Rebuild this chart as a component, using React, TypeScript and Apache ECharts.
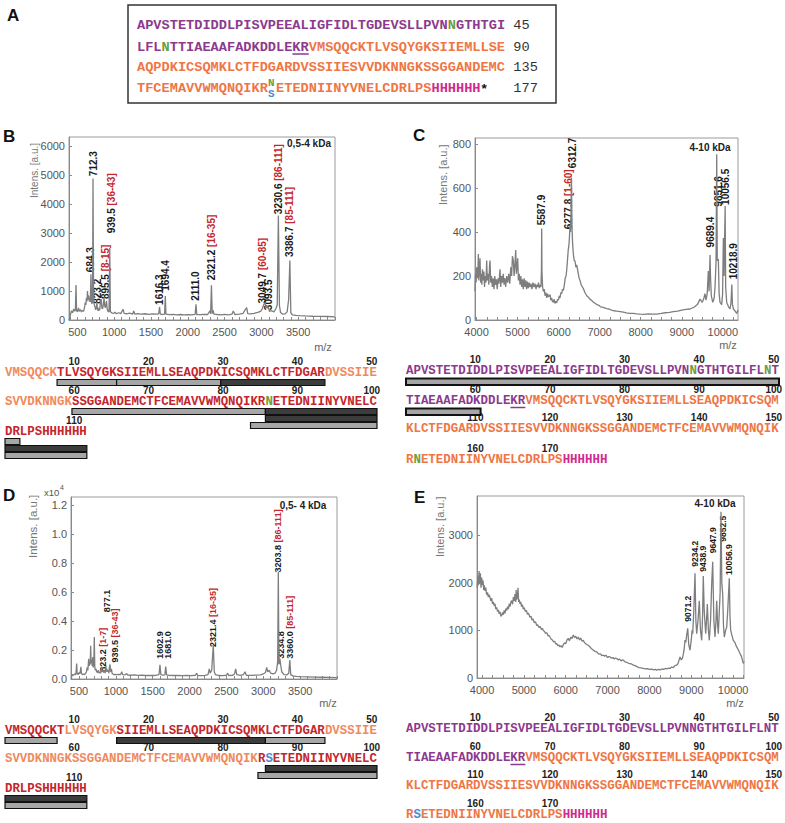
import React, { useEffect, useRef } from "react";
import * as echarts from "echarts";

const MONO = '"Liberation Mono","DejaVu Sans Mono",monospace';
const SANS = '"Liberation Sans",Arial,sans-serif';

const COLORS: Record<string, string> = {
  pur: "#8c3a8e", ora: "#ee7646", grn: "#6e9c3e", blu: "#4a8ad4", mag: "#d02a8f",
  red: "#c3262c", lor: "#f08a5e", blk: "#1a1a1a",
};

type Seg = [string, string];
type Bar = [number, number, number, string];
type Lab = [number, number, string, string];

// ---------- Panel A: full sequence ----------
const seqA: Seg[][] = [
  [["APVSTETDIDDLPISVPEEALIGFIDLTGDEVSLLPVN", "pur"], ["N", "grn"], ["GTHTGI", "pur"]],
  [["LFL", "pur"], ["N", "grn"], ["TTIAEAAFADKDDLEKR", "pur"], ["VMSQQCKTLVSQYGKSIIEMLLSE", "ora"]],
  [["AQPDKICSQMKLCTFDGARDVSSIIESVVDKNNGKSSGGANDEMC", "ora"]],
  [["TFCEMAVVWMQNQIKR", "ora"], [" ", "ora"], ["ETEDNIINYVNELCDRLPS", "ora"], ["HHHHHH", "mag"]],
];
const seqAEnds = ["45", "90", "135", "177"];

// ---------- Panel B sequence coverage ----------
const seqB: Seg[][] = [
  [["VMSQQCK", "lor"], ["TLVSQYGKSIIEMLLSEAQPDKICSQMKLCTFDGAR", "red"], ["DVSSIIE", "lor"]],
  [["SVVDKNNGK", "lor"], ["SSGGANDEMCTFCEMAVVWMQNQIKR", "red"], ["N", "grn"], ["ETEDNIINYVNELC", "red"]],
  [["DRLPSHHHHHH", "red"]],
];
const barsB: Bar[] = [
  [8, 15, 0, "g"], [16, 29, 0, "g"], [30, 43, 0, "k"],
  [60, 85, 0, "g"], [86, 100, 0, "k"], [86, 100, 1, "k"], [84, 100, 2, "g"],
  [101, 102, 0, "g"], [101, 111, 1, "k"], [101, 111, 2, "g"],
];

// ---------- Panel C sequence ----------
const seqC: Seg[][] = [
  [["APVSTETDIDDLPISVPEEALIGFIDLTGDEVSLLPVN", "pur"], ["N", "grn"], ["GTHTGILFL", "pur"], ["N", "grn"], ["T", "pur"]],
  [["TIAEAAFADKDDLEKR", "pur"], ["VMSQQCKTLVSQYGKSIIEMLLSEAQPDKICSQM", "ora"]],
  [["KLCTFDGARDVSSIIESVVDKNNGKSSGGANDEMCTFCEMAVVWMQNQIK", "ora"]],
  [["R", "ora"], ["N", "grn"], ["ETEDNIINYVNELCDRLPS", "ora"], ["HHHHHH", "mag"]],
];
const barsC: Bar[] = [[1, 50, 0, "g"], [51, 60, 0, "g"]];

// ---------- Panel D sequence ----------
const seqD: Seg[][] = [
  [["VMSQQCKT", "red"], ["LVSQYGK", "lor"], ["SIIEMLLSEAQPDKICSQMKLCTFDGAR", "red"], ["DVSSIIE", "lor"]],
  [["SVVDKNNGKSSGGANDEMCTFCEMAVVWMQNQIK", "lor"], ["R", "red"], ["S", "blu"], ["ETEDNIINYVNELC", "red"]],
  [["DRLPSHHHHHH", "red"]],
];
const barsD: Bar[] = [
  [1, 7, 0, "g"], [16, 35, 0, "k"], [36, 43, 0, "g"],
  [86, 100, 0, "k"], [85, 100, 1, "g"],
  [101, 111, 0, "k"], [101, 111, 1, "g"],
];

// ---------- Panel E sequence ----------
const seqE: Seg[][] = [
  [["APVSTETDIDDLPISVPEEALIGFIDLTGDEVSLLPVNNGTHTGILFLNT", "pur"]],
  [["TIAEAAFADKDDLEKR", "pur"], ["VMSQQCKTLVSQYGKSIIEMLLSEAQPDKICSQM", "ora"]],
  [["KLCTFDGARDVSSIIESVVDKNNGKSSGGANDEMCTFCEMAVVWMQNQIK", "ora"]],
  [["R", "ora"], ["S", "blu"], ["ETEDNIINYVNELCDRLPS", "ora"], ["HHHHHH", "mag"]],
];

// ---------- Spectra ----------
const specB: [number, number][] = [
  [386, 0], [395, 60], [405, 180], [420, 320], [435, 250], [450, 380], [465, 300], [473, 350], [481, 1210], [489, 330],
  [500, 280], [515, 420], [525, 300], [540, 360], [555, 280], [570, 330], [585, 300], [598, 450], [606, 600], [615, 520],
  [622, 760], [630, 640], [637, 1000], [643, 700], [650, 850], [657, 780], [662, 640], [668, 760], [675, 620], [684.3, 1580],
  [692, 600], [700, 560], [706, 650], [712.3, 4880], [720, 620], [728, 540], [738, 460], [748, 350], [756, 430], [765, 600],
  [772, 380], [782, 320], [795, 420], [803, 330], [813, 600], [823.2, 720], [833, 420], [842, 380], [852, 520], [862, 775],
  [870, 500], [880, 420], [888, 560], [895.5, 660], [905, 380], [915, 300], [930, 280], [939.5, 2480], [948, 300], [958, 260],
  [975, 240], [995, 230], [1010, 270], [1030, 215], [1060, 250], [1090, 220], [1120, 370], [1135, 230], [1170, 215], [1210, 240],
  [1250, 200], [1265, 310], [1280, 205], [1320, 220], [1370, 200], [1420, 215], [1470, 195], [1520, 210], [1570, 200], [1605, 215],
  [1616.3, 450], [1627, 200], [1660, 190], [1685, 205], [1694.4, 830], [1703, 200], [1750, 185], [1800, 195], [1850, 180], [1900, 190],
  [1950, 175], [2000, 185], [2050, 180], [2100, 195], [2111, 545], [2122, 190], [2170, 185], [2220, 195], [2270, 190], [2300, 320],
  [2310, 210], [2321.2, 1200], [2332, 220], [2345, 330], [2355, 200], [2400, 190], [2450, 180], [2500, 195], [2550, 180], [2600, 200],
  [2618, 310], [2640, 190], [2700, 200], [2750, 230], [2780, 350], [2800, 430], [2815, 220], [2850, 210], [2900, 230], [2950, 260],
  [2990, 300], [3010, 380], [3030, 520], [3049.7, 600], [3065, 420], [3080, 480], [3093.5, 430], [3110, 300], [3140, 320], [3170, 280],
  [3195, 380], [3215, 520], [3230.6, 3600], [3245, 500], [3260, 260], [3290, 200], [3320, 210], [3350, 280], [3370, 700], [3386.7, 2050],
  [3400, 250], [3420, 180], [3470, 160], [3520, 150], [3600, 140], [3700, 130], [3800, 125], [3900, 120], [4000, 110],
];
const labelsB: Lab[] = [
  [684.3, 1650, "684.3", ""], [712.3, 4960, "712.3", ""], [823.2, 560, "823.2", ""], [895.5, 720, "895.5", "[8-15]"],
  [939.5, 2990, "939.5", "[36-43]"], [1616.3, 520, "1616.3", ""], [1694.4, 1010, "1694.4", ""], [2111.0, 660, "2111.0", ""],
  [2321.2, 1370, "2321.2", "[16-35]"], [3049.7, 570, "3049.7", "[60-85]"], [3093.5, 340, "3093.5", ""],
  [3230.6, 3650, "3230.6", "[86-111]"], [3386.7, 2170, "3386.7", "[85-111]"],
];

const specC: [number, number][] = [
  [3963, 130], [3975, 210], [3990, 170], [4005, 240], [4020, 190], [4035, 230], [4045, 300], [4055, 180], [4070, 220], [4085, 280],
  [4100, 170], [4115, 210], [4130, 160], [4145, 230], [4160, 180], [4180, 220], [4195, 150], [4210, 200], [4230, 170], [4248, 270],
  [4262, 180], [4280, 210], [4300, 160], [4318, 250], [4329, 270], [4345, 170], [4365, 200], [4385, 150], [4405, 190], [4425, 140],
  [4445, 200], [4465, 160], [4485, 185], [4505, 140], [4525, 190], [4545, 165], [4572, 230], [4590, 150], [4610, 200], [4630, 170],
  [4650, 210], [4670, 160], [4690, 190], [4710, 150], [4735, 200], [4760, 170], [4785, 210], [4810, 165], [4835, 240], [4855, 200],
  [4875, 290], [4897, 270], [4915, 200], [4935, 250], [4955, 318], [4970, 210], [4985, 240], [5003, 280], [5020, 180], [5040, 210],
  [5060, 160], [5080, 200], [5100, 150], [5120, 185], [5140, 140], [5160, 190], [5180, 150], [5200, 180], [5220, 140], [5240, 175],
  [5260, 145], [5280, 170], [5303, 150], [5325, 165], [5350, 140], [5375, 170], [5400, 150], [5425, 165], [5450, 140], [5466, 160],
  [5490, 150], [5510, 170], [5530, 145], [5550, 160], [5570, 150], [5582, 230], [5588, 416], [5594, 220], [5610, 150], [5628, 130],
  [5650, 140], [5670, 110], [5690, 125], [5710, 100], [5730, 120], [5750, 105], [5770, 110], [5790, 115], [5810, 90], [5830, 100],
  [5850, 85], [5871, 80], [5890, 95], [5910, 75], [5930, 85], [5953, 78], [5975, 95], [5995, 90], [6015, 110], [6034, 100],
  [6055, 125], [6075, 120], [6095, 140], [6115, 135], [6140, 160], [6160, 190], [6180, 200], [6196, 225], [6215, 270], [6235, 320],
  [6253, 344], [6265, 380], [6278, 430], [6290, 400], [6300, 480], [6312.7, 647], [6325, 430], [6340, 350], [6359, 300], [6380, 270],
  [6400, 268], [6420, 240], [6441, 250], [6470, 220], [6500, 190], [6521, 180], [6550, 160], [6580, 150], [6610, 140], [6640, 125],
  [6685, 110], [6720, 105], [6760, 95], [6800, 90], [6850, 80], [6900, 75], [6928, 70], [6970, 68], [7020, 60], [7070, 58],
  [7120, 55], [7172, 52], [7230, 50], [7290, 45], [7350, 42], [7420, 40], [7500, 38], [7577, 36], [7650, 32], [7730, 30],
  [7820, 30], [7900, 28], [7983, 27], [8080, 26], [8180, 28], [8280, 27], [8390, 27], [8500, 30], [8600, 33], [8700, 35],
  [8795, 38], [8900, 40], [9000, 45], [9100, 48], [9201, 50], [9300, 58], [9380, 70], [9445, 95], [9500, 80], [9540, 100],
  [9566, 120], [9590, 90], [9620, 120], [9647, 223], [9665, 130], [9689, 295], [9700, 200], [9720, 110], [9755, 80], [9790, 100],
  [9810, 150], [9835, 260], [9851.6, 753], [9865, 270], [9891, 277], [9910, 120], [9932, 80], [9972, 70], [9995, 120], [10013, 373],
  [10030, 200], [10056.5, 518], [10070, 150], [10095, 80], [10140, 60], [10176, 50], [10200, 80], [10218.9, 161], [10235, 70], [10260, 50],
  [10300, 40], [10338, 30], [10370, 45],
];
const labelsC: Lab[] = [
  [5587.9, 430, "5587.9", ""], [6277.8, 412, "6277.8", "[1-60]"], [6312.7, 690, "6312.7", ""], [9689.4, 330, "9689.4", ""],
  [9851.6, 515, "9851.6", ""], [10056.5, 523, "10056.5", ""], [10218.9, 185, "10218.9", ""],
];

const specD: [number, number][] = [
  [395, 0.005], [405, 0.03], [420, 0.025], [440, 0.035], [455, 0.03], [462, 0.06], [468, 0.107], [474, 0.04], [485, 0.03], [500, 0.045],
  [510, 0.035], [520, 0.06], [526, 0.084], [532, 0.04], [545, 0.03], [560, 0.035], [575, 0.03], [590, 0.04], [600, 0.05], [612, 0.08],
  [620, 0.06], [631, 0.14], [638, 0.09], [645, 0.12], [652, 0.1], [658, 0.23], [664, 0.11], [672, 0.13], [678, 0.09], [685, 0.15],
  [692, 0.08], [700, 0.1], [707, 0.29], [714, 0.08], [722, 0.06], [730, 0.07], [739, 0.05], [750, 0.045], [760, 0.06], [772, 0.04],
  [784, 0.05], [795, 0.04], [807, 0.085], [815, 0.05], [823.2, 0.06], [832, 0.045], [845, 0.06], [855, 0.04], [865, 0.09], [872, 0.05],
  [877.1, 0.07], [885, 0.05], [895, 0.06], [905, 0.04], [912, 0.08], [920, 0.1], [928, 0.05], [939.5, 0.07], [948, 0.04], [960, 0.035],
  [975, 0.03], [990, 0.032], [1010, 0.03], [1040, 0.032], [1065, 0.03], [1079, 0.05], [1092, 0.03], [1120, 0.028], [1147, 0.038], [1160, 0.027],
  [1200, 0.026], [1250, 0.028], [1300, 0.025], [1350, 0.026], [1400, 0.024], [1450, 0.025], [1500, 0.024], [1550, 0.026], [1585, 0.03], [1598, 0.098],
  [1610, 0.03], [1640, 0.026], [1665, 0.028], [1676, 0.085], [1688, 0.028], [1720, 0.025], [1780, 0.024], [1840, 0.025], [1900, 0.023], [1960, 0.024],
  [2020, 0.023], [2080, 0.026], [2096, 0.04], [2110, 0.024], [2160, 0.023], [2210, 0.025], [2250, 0.03], [2267, 0.07], [2280, 0.04], [2300, 0.06],
  [2321.4, 0.235], [2335, 0.05], [2350, 0.03], [2400, 0.024], [2450, 0.023], [2500, 0.026], [2517, 0.04], [2530, 0.024], [2580, 0.025], [2610, 0.035],
  [2625, 0.07], [2640, 0.03], [2690, 0.025], [2730, 0.03], [2752, 0.05], [2770, 0.026], [2830, 0.025], [2900, 0.027], [2960, 0.028], [3000, 0.035],
  [3030, 0.045], [3046, 0.08], [3060, 0.05], [3080, 0.06], [3100, 0.04], [3130, 0.035], [3160, 0.04], [3180, 0.06], [3195, 0.12], [3203.8, 0.74],
  [3212, 0.1], [3226, 0.14], [3234.8, 0.1], [3250, 0.05], [3280, 0.03], [3320, 0.028], [3345, 0.04], [3360, 0.13], [3372, 0.03], [3400, 0.022],
  [3450, 0.018], [3500, 0.016], [3600, 0.015], [3700, 0.013], [3800, 0.012], [3900, 0.011], [4000, 0.01],
];
const labelsD: Lab[] = [
  [823.2, 0.05, "823.2", "[1-7]"], [877.1, 0.46, "877.1", ""], [939.5, 0.114, "939.5", "[36-43]"], [1602.9, 0.14, "1602.9", ""],
  [1681.0, 0.14, "1681.0", ""], [2321.4, 0.22, "2321.4", "[16-35]"], [3203.8, 0.735, "3203.8", "[86-111]"],
  [3234.8, 0.14, "3234.8", ""], [3360.0, 0.14, "3360.0", "[85-111]"],
];

const specE: [number, number][] = [
  [3885, 1900], [3900, 2150], [3915, 1950], [3930, 2250], [3945, 2000], [3960, 2200], [3975, 1900], [3992, 2111], [4010, 1950], [4025, 2050],
  [4040, 1850], [4055, 1950], [4071, 1833], [4090, 1900], [4110, 1750], [4130, 1800], [4150, 1700], [4170, 1750], [4191, 1694], [4210, 1620],
  [4230, 1680], [4250, 1560], [4270, 1600], [4290, 1520], [4310, 1560], [4330, 1450], [4351, 1486], [4370, 1400], [4390, 1430], [4410, 1350],
  [4430, 1390], [4450, 1300], [4470, 1313], [4490, 1380], [4510, 1330], [4530, 1420], [4549, 1360], [4570, 1460], [4590, 1417], [4610, 1500],
  [4630, 1450], [4650, 1560], [4670, 1500], [4690, 1600], [4709, 1625], [4730, 1550], [4750, 1700], [4770, 1620], [4788, 1764], [4805, 1600],
  [4815, 1850], [4829, 1650], [4845, 1700], [4860, 1896], [4875, 1600], [4890, 1650], [4907, 1556], [4925, 1600], [4945, 1500], [4965, 1540],
  [4986, 1450], [5010, 1480], [5035, 1400], [5060, 1420], [5085, 1340], [5110, 1360], [5146, 1278], [5170, 1300], [5195, 1220], [5220, 1240],
  [5250, 1160], [5280, 1180], [5307, 1104], [5330, 1120], [5360, 1060], [5390, 1080], [5420, 1020], [5445, 1040], [5464, 1000], [5490, 980],
  [5520, 940], [5550, 950], [5580, 880], [5600, 900], [5624, 861], [5650, 820], [5680, 800], [5710, 760], [5740, 770], [5760, 720],
  [5784, 722], [5810, 680], [5840, 690], [5863, 653], [5890, 680], [5915, 640], [5942, 700], [5970, 740], [6000, 720], [6030, 800],
  [6062, 833], [6090, 780], [6120, 860], [6150, 830], [6181, 903], [6210, 850], [6240, 880], [6270, 820], [6301, 861], [6330, 800],
  [6360, 840], [6390, 770], [6420, 792], [6450, 740], [6480, 720], [6510, 700], [6550, 680], [6580, 653], [6610, 620], [6640, 600],
  [6670, 580], [6700, 560], [6740, 549], [6770, 520], [6800, 500], [6830, 510], [6860, 470], [6898, 479], [6930, 460], [6960, 480],
  [7000, 430], [7030, 450], [7058, 444], [7090, 420], [7130, 430], [7160, 400], [7190, 420], [7218, 410], [7250, 380], [7280, 400],
  [7320, 360], [7350, 380], [7376, 375], [7420, 340], [7460, 330], [7500, 310], [7540, 300], [7580, 290], [7615, 271], [7660, 260],
  [7700, 240], [7750, 220], [7800, 215], [7854, 201], [7900, 190], [7950, 195], [8000, 180], [8050, 185], [8100, 170], [8140, 180],
  [8174, 167], [8220, 180], [8260, 170], [8300, 190], [8340, 180], [8380, 200], [8420, 190], [8460, 210], [8492, 201], [8530, 230],
  [8570, 220], [8610, 260], [8652, 271], [8680, 300], [8700, 350], [8731, 444], [8760, 380], [8790, 420], [8810, 500], [8830, 600],
  [8850, 800], [8870, 750], [8890, 900], [8915, 1044], [8940, 700], [8970, 583], [9000, 800], [9020, 1000], [9034, 931], [9060, 1400],
  [9089, 2200], [9110, 1200], [9130, 931], [9160, 1200], [9192, 1625], [9220, 1000], [9249, 792], [9270, 1300], [9287, 2144], [9310, 1400],
  [9345, 931], [9370, 1300], [9384, 1556], [9410, 1000], [9431, 792], [9460, 1200], [9488, 1979], [9512, 2445], [9540, 1200], [9567, 861],
  [9590, 1200], [9608, 1625], [9630, 1100], [9646, 931], [9670, 1400], [9690, 1800], [9710, 3496], [9730, 2000], [9751, 1764], [9770, 1100],
  [9790, 861], [9820, 1000], [9847, 1069], [9870, 1400], [9909, 2095], [9925, 1300], [9942, 1000], [9970, 900], [10004, 792], [10040, 750],
  [10085, 653], [10120, 600], [10165, 514], [10200, 450], [10243, 306], [10258, 350],
];
const labelsE: Lab[] = [
  [8915, 1183, "9071.2", ""], [9089, 2340, "9234.2", ""], [9287, 2235, "9438.9", ""], [9512, 2621, "9647.9", ""],
  [9710, 2866, "9852.5", ""], [9909, 2165, "10056.9", ""],
];

// label nudges (px), style only
const nudge: Record<string, number> = {
  "B823.2": -4, "B895.5": -1.5, "B939.5": 2, "B3049.7": -2.5,
  "C6277.8": -2, "C6312.7": 1.5, "C9851.6": 1.5, "C10218.9": 1.5,
  "D939.5": 3.5, "D1681.0": 2, "E9852.5": 2,
};

const xTicksB = [500, 1000, 1500, 2000, 2500, 3000, 3500];
const xTicksC = [4000, 5000, 6000, 7000, 8000, 9000, 10000];
const yTicksB = [0, 1000, 2000, 3000, 4000, 5000, 6000];
const yTicksC = [0, 200, 400, 600, 800];
const yTicksD = [0, 0.2, 0.4, 0.6, 0.8, 1.0, 1.2];
const yTicksE = [0, 1000, 2000, 3000];

function range(a: number, b: number, s: number) {
  const r: number[] = [];
  for (let v = a; v <= b + 1e-9; v += s) r.push(v);
  return r;
}

export default function App() {
  const ref = useRef<HTMLDivElement>(null);
  useEffect(() => {
    if (!ref.current) return;
    const chart = echarts.init(ref.current, undefined, { renderer: "svg", width: 785, height: 823 });
    const axisColor = "#8a8a8a";
    const labStyle = { color: "#555", fontSize: 11, fontFamily: SANS };
    const plain = (v: number) => String(v);
    const mkX = (gi: number, min: number, max: number, labels: number[], minor: number[]) => ({
      type: "value", gridIndex: gi, min, max,
      axisLine: { show: true, onZero: false, lineStyle: { color: axisColor } },
      axisTick: { show: true, inside: true, length: 3, customValues: minor, lineStyle: { color: axisColor } },
      axisLabel: { ...labStyle, margin: 6, customValues: labels, formatter: plain },
      splitLine: { show: false },
    });
    const mkY = (gi: number, max: number, labels: number[], fmt: (v: number) => string) => ({
      type: "value", gridIndex: gi, min: 0, max,
      axisLine: { show: true, lineStyle: { color: axisColor } },
      axisTick: { show: true, inside: true, length: 3, customValues: labels, lineStyle: { color: axisColor } },
      axisLabel: { ...labStyle, margin: 4, customValues: labels, formatter: fmt },
      splitLine: { show: false },
    });
    const lineS = (i: number, data: [number, number][]) => ({
      type: "line", xAxisIndex: i, yAxisIndex: i, data, showSymbol: false, silent: true,
      lineStyle: { color: "#7e7e7e", width: 1.3 },
    });
    const gridBase = { show: true, borderColor: "#9a9a9a", borderWidth: 1, containLabel: false };
    chart.setOption({
      animation: false,
      grid: [
        { ...gridBase, left: 69, top: 137, width: 266, height: 183 },
        { ...gridBase, left: 475, top: 138, width: 263, height: 182 },
        { ...gridBase, left: 71, top: 497, width: 266, height: 182 },
        { ...gridBase, left: 477, top: 496, width: 267, height: 182 },
      ],
      xAxis: [
        mkX(0, 386, 4000, xTicksB, range(400, 4000, 100)),
        mkX(1, 3963, 10370, xTicksC, range(4000, 10250, 250)),
        mkX(2, 391, 4000, xTicksB, range(400, 4000, 100)),
        mkX(3, 3880, 10260, xTicksC, range(4000, 10250, 250)),
      ],
      yAxis: [
        mkY(0, 6310, yTicksB, plain),
        mkY(1, 827, yTicksC, plain),
        mkY(2, 1.255, yTicksD, (v: number) => v.toFixed(1)),
        mkY(3, 3826, yTicksE, plain),
      ],
      series: [lineS(0, specB), lineS(1, specC), lineS(2, specD), lineS(3, specE)],
    });

    const g: any[] = [];
    const txt = (x: number, y: number, t: string, fill: string, font: string, align = "left", va = "middle", extra: any = {}) => {
      g.push({
        type: "text", x, y, silent: true, ...extra,
        style: { text: t, fill, font, align, verticalAlign: va, textAlign: align, textVerticalAlign: va },
      });
    };

    // panel letters
    const letterFont = `bold 17px ${SANS}`;
    txt(7, 15, "A", "#111", letterFont);
    txt(3, 136, "B", "#111", letterFont);
    txt(413, 135, "C", "#111", letterFont);
    txt(3, 495, "D", "#111", letterFont);
    txt(414, 497, "E", "#111", letterFont);

    // ---- Panel A ----
    const aX0 = 137, aCw = 8.18, aFs = aCw / 0.6, aYs = [25, 47, 67, 88];
    g.push({ type: "rect", shape: { x: 128, y: 5, width: 428, height: 98 }, style: { fill: "none", stroke: "#333", lineWidth: 1.5 }, silent: true });
    seqA.forEach((row, r) => {
      let col = 0;
      row.forEach(([t, c]) => {
        if (t.trim()) txt(aX0 + col * aCw, aYs[r], t, COLORS[c], `bold ${aFs}px ${MONO}`);
        col += t.length;
      });
      txt(aX0 + 46 * aCw, aYs[r], seqAEnds[r], "#333", `${aFs}px ${MONO}`);
    });
    txt(aX0 + 16 * aCw, aYs[3] - 5.5, "N", COLORS.grn, `bold ${aFs * 0.8}px ${MONO}`);
    txt(aX0 + 16 * aCw, aYs[3] + 6, "S", COLORS.blu, `bold ${aFs * 0.8}px ${MONO}`);
    txt(aX0 + 42 * aCw + 1, aYs[3], "*", "#111", `bold ${aFs}px ${SANS}`);
    g.push({ type: "line", shape: { x1: aX0 + 19 * aCw, y1: aYs[1] + 7, x2: aX0 + 21 * aCw, y2: aYs[1] + 7 }, style: { stroke: COLORS.pur, lineWidth: 1.5 }, silent: true });

    // ---- sequence blocks ----
    const numFont = `bold 10px ${SANS}`;
    const seqBlock = (rows: Seg[][], x0: number, ys: number[], cw: number, bars: Bar[], barOff: number, pitch: number, bh: number, blw: number, ul: number) => {
      const fs = cw / 0.6;
      rows.forEach((row, r) => {
        let col = 0;
        const start = r * 50 + 1;
        row.forEach(([t, c]) => {
          txt(x0 + col * cw, ys[r], t, COLORS[c], `bold ${fs}px ${MONO}`);
          col += t.length;
        });
        for (let n = start; n < start + col; n++) {
          if (n % 10 === 0) txt(x0 + (n - start + 0.5) * cw - 1.5, ys[r] - 12, String(n), "#222", numFont, "center");
        }
      });
      if (ul >= 0) {
        g.push({ type: "line", shape: { x1: x0 + 14 * cw, y1: ys[ul] + 6.5, x2: x0 + 16 * cw, y2: ys[ul] + 6.5 }, style: { stroke: COLORS.pur, lineWidth: 1.5 }, silent: true });
      }
      bars.forEach(([s, e, lvl, k]) => {
        const r = Math.floor((s - 1) / 50);
        const start = r * 50 + 1;
        g.push({
          type: "rect", silent: true,
          shape: { x: x0 + (s - start) * cw, y: ys[r] + barOff + lvl * pitch, width: (e - s + 1) * cw, height: bh },
          style: { fill: k === "k" ? "#3c3c3c" : "#a6a6a6", stroke: "#111", lineWidth: blw },
        });
      });
    };
    seqBlock(seqB, 5, [373, 402, 432], 7.44, barsB, 6.5, 7, 6, 1.2, -1);
    seqBlock(seqC, 406, [371, 401, 429, 460], 7.46, barsC, 7.5, 7, 6.5, 2, 1);
    seqBlock(seqD, 5, [731, 759, 789], 7.44, barsD, 6.5, 7, 6, 1.2, -1);
    seqBlock(seqE, 406, [729, 758, 786, 815], 7.46, [], 0, 0, 0, 0, 1);

    // ---- spectrum annotations ----
    const peakLabels = (gi: number, key: string, labs: Lab[], fs: number) => {
      const font = `bold ${fs}px ${SANS}`;
      labs.forEach(([mzv, yv, m, br]) => {
        const p = chart.convertToPixel({ gridIndex: gi }, [mzv, yv]) as number[];
        const dx = nudge[key + m] || 0;
        g.push({
          type: "text", silent: true, x: p[0] + dx, y: p[1], rotation: Math.PI / 2,
          style: {
            text: br ? `{m|${m}} {r|${br}}` : `{m|${m}}`,
            rich: { m: { fill: "#1a1a1a", font }, r: { fill: "#c3262c", font } },
            font, fill: "#1a1a1a", align: "left", verticalAlign: "middle", textAlign: "left", textVerticalAlign: "middle",
          },
        });
      });
    };
    peakLabels(0, "B", labelsB, 10);
    peakLabels(1, "C", labelsC, 10);
    peakLabels(2, "D", labelsD, 9);
    peakLabels(3, "E", labelsE, 8.5);

    const kda = `bold 10px ${SANS}`;
    txt(309, 143, "0,5-4 kDa", "#222", kda, "center");
    txt(710, 147, "4-10 kDa", "#222", kda, "center");
    txt(303, 505, "0,5- 4 kDa", "#222", kda, "center");
    txt(715, 503, "4-10 kDa", "#222", kda, "center");

    const mzFont = `11px ${SANS}`;
    txt(323, 347, "m/z", "#666", mzFont, "center");
    txt(728, 345, "m/z", "#666", mzFont, "center");
    txt(328, 703, "m/z", "#666", mzFont, "center");
    txt(735, 703, "m/z", "#666", mzFont, "center");

    const yn = (x: number, y: number, fs: number) =>
      txt(x, y, "Intens. [a.u.]", "#777", `${fs}px ${SANS}`, "left", "middle", { rotation: Math.PI / 2 });
    yn(34, 198, 10);
    yn(443, 205, 11);
    yn(33, 558, 11.5);
    yn(440, 557, 11);

    txt(44, 492, "x10", "#555", `9.5px ${SANS}`);
    txt(60, 487, "4", "#555", `7px ${SANS}`);

    chart.setOption({ graphic: { elements: g } });
    return () => chart.dispose();
  }, []);
  return <div ref={ref} style={{ position: "absolute", left: 0, top: 0, width: 785, height: 823 }} />;
}
